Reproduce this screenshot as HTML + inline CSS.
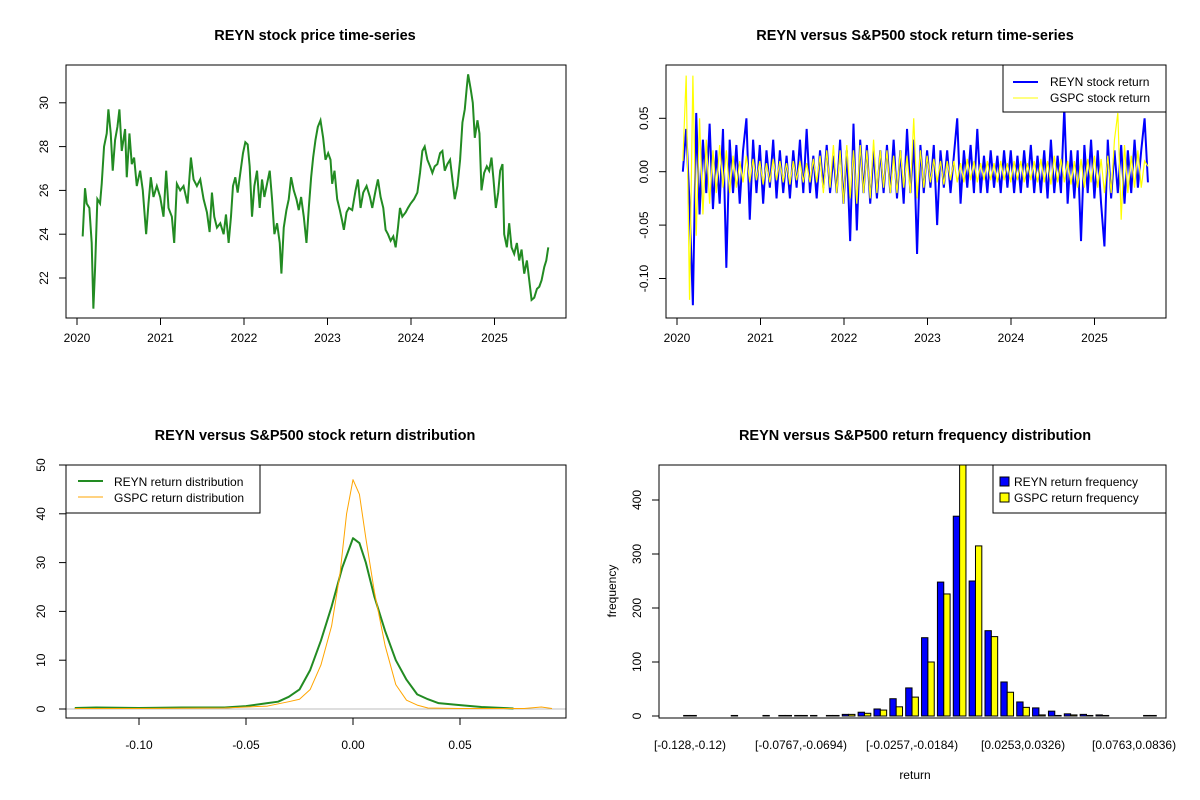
<!DOCTYPE html>
<html><head><meta charset="utf-8"><style>
body{margin:0;background:#fff}
svg{display:block;font-family:"Liberation Sans",Arial,sans-serif}
.t{font-weight:bold;font-size:14.5px;text-anchor:middle}
.k{font-size:12px;fill:#000}
</style></head><body>
<svg id="c" width="1200" height="800" viewBox="0 0 1200 800"></svg>
<script>
// ---------- data ----------
const priceYears=[0.068,0.096,0.116,0.148,0.176,0.196,0.216,0.244,0.276,0.296,0.324,0.356,0.376,0.404,0.428,0.456,0.484,0.508,0.536,0.576,0.596,0.628,0.656,0.684,0.716,0.756,0.788,0.816,0.828,0.856,0.884,0.916,0.956,0.996,1.036,1.068,1.096,1.136,1.164,1.196,1.236,1.276,1.324,1.364,1.396,1.436,1.476,1.516,1.556,1.588,1.616,1.644,1.676,1.716,1.756,1.784,1.816,1.844,1.868,1.896,1.924,1.956,1.988,2.016,2.044,2.068,2.096,2.124,2.156,2.188,2.216,2.244,2.276,2.308,2.336,2.364,2.396,2.428,2.448,2.476,2.508,2.536,2.564,2.596,2.628,2.656,2.684,2.716,2.748,2.776,2.804,2.828,2.856,2.884,2.916,2.948,2.976,3.008,3.036,3.056,3.084,3.116,3.148,3.176,3.196,3.228,3.256,3.296,3.336,3.364,3.396,3.428,3.468,3.508,3.536,3.576,3.604,3.636,3.668,3.696,3.724,3.756,3.788,3.816,3.844,3.868,3.896,3.936,3.964,3.996,4.036,4.076,4.108,4.136,4.164,4.196,4.228,4.256,4.284,4.316,4.348,4.376,4.404,4.436,4.468,4.496,4.524,4.556,4.588,4.616,4.644,4.668,4.684,4.716,4.74,4.764,4.796,4.82,4.844,4.876,4.908,4.936,4.964,4.988,5.016,5.044,5.068,5.096,5.116,5.148,5.176,5.204,5.236,5.268,5.296,5.324,5.356,5.388,5.416,5.444,5.476,5.508,5.536,5.564,5.596,5.62,5.644];
const prices=[23.9,26.1,25.4,25.2,23.6,20.6,22.4,25.6,25.4,26.3,28.0,28.6,29.7,28.6,26.9,28.3,28.9,29.7,27.8,28.8,26.6,28.6,27.2,27.5,26.2,26.9,26.0,24.6,24.0,25.4,26.6,25.7,26.2,25.7,24.8,26.9,25.2,24.8,23.6,26.3,26.0,26.2,25.4,27.5,26.5,26.2,26.5,25.6,25.0,24.1,25.9,24.8,24.3,24.5,24.0,24.9,23.6,24.8,26.2,26.6,25.9,26.8,27.7,28.2,28.1,27.1,24.8,26.2,26.9,25.2,26.5,25.7,26.3,26.9,25.6,24.0,24.5,23.6,22.2,24.3,25.1,25.6,26.6,26.0,25.6,25.1,25.7,24.8,23.6,25.2,26.6,27.5,28.3,28.9,29.2,28.4,27.4,27.7,27.4,26.3,26.9,25.6,25.1,24.6,24.2,25.0,25.2,25.1,26.0,26.5,25.2,25.9,26.2,25.7,25.2,26.0,26.5,25.7,25.2,24.2,24.0,23.7,23.9,23.4,24.3,25.2,24.8,25.0,25.2,25.4,25.6,25.9,26.8,27.8,28.0,27.4,27.1,26.8,27.1,27.2,27.7,27.8,26.9,27.2,27.4,26.5,25.6,26.2,27.4,29.1,29.7,30.7,31.3,30.6,30.0,28.4,29.2,28.6,26.0,26.8,27.1,26.9,27.5,26.5,25.2,25.9,26.9,27.2,24.0,23.4,24.5,23.4,23.1,23.6,22.8,23.3,22.2,22.8,21.9,21.0,21.1,21.5,21.6,21.9,22.5,22.8,23.4];
const returnStartYear=2020.07, returnEndYear=2025.64;
const reynReturns=[0.00,0.04,-0.03,-0.125,0.055,-0.04,0.03,-0.02,0.045,-0.035,0.02,-0.03,0.04,-0.09,0.03,-0.02,0.025,-0.03,0.02,0.05,
-0.045,0.03,-0.02,0.025,-0.03,0.02,-0.015,0.03,-0.025,0.02,-0.02,0.015,-0.025,0.02,-0.015,0.03,-0.02,0.04,-0.02,0.015,
-0.025,0.02,-0.015,0.025,-0.02,0.015,-0.02,0.03,-0.03,0.02,-0.065,0.045,-0.055,0.03,-0.02,0.025,-0.03,0.02,-0.025,0.02,
-0.02,0.025,-0.02,0.03,-0.025,0.02,-0.03,0.04,-0.02,0.03,-0.077,0.025,-0.02,0.02,-0.015,0.025,-0.05,0.02,-0.015,0.02,
-0.02,0.015,0.05,-0.03,0.02,-0.015,0.025,-0.02,0.04,-0.02,0.015,-0.02,0.02,-0.015,0.015,-0.02,0.02,-0.015,0.02,-0.02,
0.015,-0.02,0.02,-0.015,0.025,-0.02,0.015,-0.02,0.02,-0.025,0.03,-0.02,0.015,-0.02,0.06,-0.03,0.02,-0.025,0.02,-0.065,
0.025,-0.02,0.03,-0.025,0.02,-0.03,-0.07,0.03,-0.025,0.02,-0.02,0.025,-0.03,0.02,-0.02,0.03,-0.015,0.02,0.05,-0.01];
const gspcReturns=[0.01,0.09,-0.12,0.09,-0.06,0.05,-0.04,0.03,-0.03,0.02,-0.02,0.025,-0.015,0.02,-0.02,0.015,-0.015,0.01,-0.01,0.015,
-0.01,0.012,-0.008,0.01,-0.012,0.008,-0.01,0.012,-0.008,0.01,-0.01,0.008,-0.012,0.01,-0.008,0.01,-0.01,0.008,-0.01,0.012,
-0.01,0.015,-0.02,0.02,-0.015,0.025,-0.02,0.02,-0.03,0.025,-0.025,0.02,-0.03,0.025,-0.02,0.02,-0.025,0.03,-0.02,0.02,
-0.015,0.02,-0.02,0.015,-0.02,0.02,-0.015,0.015,-0.02,0.05,-0.025,0.02,-0.015,0.015,-0.01,0.012,-0.01,0.01,-0.012,0.01,
-0.008,0.01,-0.01,0.008,-0.01,0.012,-0.008,0.01,-0.01,0.008,-0.008,0.01,-0.008,0.008,-0.01,0.01,-0.008,0.008,-0.01,0.01,
-0.008,0.01,-0.01,0.008,-0.008,0.01,-0.01,0.012,-0.01,0.01,-0.012,0.015,-0.01,0.012,-0.01,0.01,-0.012,0.01,-0.015,0.012,
-0.015,0.012,-0.01,0.015,-0.015,0.012,-0.02,0.015,-0.02,0.03,0.055,-0.045,0.025,-0.02,0.015,-0.015,0.02,-0.015,0.01,0.005];
const reynDensX=[-0.13,-0.12,-0.1,-0.08,-0.06,-0.05,-0.04,-0.035,-0.03,-0.025,-0.02,-0.015,-0.01,-0.005,0,0.003,0.006,0.01,0.015,0.02,0.025,0.03,0.035,0.04,0.05,0.06,0.075];
const reynDensY=[0.2,0.3,0.2,0.3,0.3,0.6,1.2,1.5,2.5,4.0,8,14,21,29,35,34,30,23,16,10,6,3,2,1.2,0.8,0.4,0.1];
const gspcDensX=[-0.13,-0.1,-0.06,-0.04,-0.03,-0.025,-0.02,-0.015,-0.01,-0.006,-0.003,0,0.003,0.006,0.01,0.015,0.02,0.025,0.03,0.035,0.05,0.08,0.088,0.093];
const gspcDensY=[0.1,0.1,0.2,0.6,1.5,2,4,9,17,28,40,47,44,35,24,13,5,1.8,0.8,0.2,0.1,0.1,0.4,0.1];
const binLabels=["[-0.128,-0.12)","[-0.0767,-0.0694)","[-0.0257,-0.0184)","[0.0253,0.0326)","[0.0763,0.0836)"];
const binLabelIdx=[0,7,14,21,28];
const reynFreq=[1,0,0,1,0,1,1,1,1,1,3,7,13,32,52,145,248,370,250,158,63,26,15,9,4,3,2,0,0,1];
const gspcFreq=[1,0,0,0,0,0,1,1,0,1,3,5,11,17,35,100,226,470,315,147,44,16,2,1,2,1,1,0,0,1];
const yearTicks=[2020,2021,2022,2023,2024,2025];
const priceTicks=[22,24,26,28,30];
const retTicks=[-0.10,-0.05,0.00,0.05];
const densXTicks=[-0.10,-0.05,0.00,0.05];
const densYTicks=[0,10,20,30,40,50];
const freqTicks=[0,100,200,300,400];

// ---------- helpers ----------
const svg=document.getElementById('c');
const NS='http://www.w3.org/2000/svg';
function el(tag,at,parent){const e=document.createElementNS(NS,tag);for(const k in at)e.setAttribute(k,at[k]);(parent||svg).appendChild(e);return e;}
function txt(s,x,y,cls,rot,anchor){const e=el('text',{x:x,y:y,class:cls});if(anchor)e.setAttribute('text-anchor',anchor);if(rot)e.setAttribute('transform','rotate(-90 '+x+' '+y+')');e.textContent=s;return e;}
const fmt2=v=>v.toFixed(2);

// ---------- panel 1 ----------
const p1x=y=>77+(y-2020)*83.5, p1y=v=>278-(v-22)*21.9;
let t=txt('REYN stock price time-series',315,40,'t');

let g=el('g',{});
el('polyline',{points:priceYears.map((d,i)=>p1x(2020+d)+','+p1y(prices[i])).join(' '),fill:'none',stroke:'#228b22','stroke-width':2},g);
let b=el('rect',{x:66,y:65,width:500,height:253,fill:'none',stroke:'#000'});

yearTicks.forEach(v=>{el('line',{x1:p1x(v),x2:p1x(v),y1:318,y2:325,stroke:'#000'});let e=txt(String(v),p1x(v),342,'k',0,'middle');});
priceTicks.forEach(v=>{el('line',{x1:59,x2:66,y1:p1y(v),y2:p1y(v),stroke:'#000'});let e=txt(String(v),48,p1y(v),'k',1,'middle');});

// ---------- panel 2 ----------
const p2x=y=>677+(y-2020)*83.5, p2y=v=>171.7-v*1068;
const rdate=(i,n)=>returnStartYear+(returnEndYear-returnStartYear)*i/(n-1);
t=txt('REYN versus S&P500 stock return time-series',915,40,'t');

g=el('g',{});
el('polyline',{points:reynReturns.map((v,i)=>p2x(rdate(i,reynReturns.length))+','+p2y(v)).join(' '),fill:'none',stroke:'#0000ff','stroke-width':2},g);
g=el('g',{});
el('polyline',{points:gspcReturns.map((v,i)=>p2x(rdate(i,gspcReturns.length))+','+p2y(v)).join(' '),fill:'none',stroke:'#ffff00','stroke-width':1.2},g);
b=el('rect',{x:666,y:65,width:500,height:253,fill:'none',stroke:'#000'});

yearTicks.forEach(v=>{el('line',{x1:p2x(v),x2:p2x(v),y1:318,y2:325,stroke:'#000'});let e=txt(String(v),p2x(v),342,'k',0,'middle');});
retTicks.forEach(v=>{el('line',{x1:659,x2:666,y1:p2y(v),y2:p2y(v),stroke:'#000'});let e=txt(fmt2(v),648,p2y(v),'k',1,'middle');});
g=el('g',{});
el('rect',{x:1003,y:65,width:163,height:47,fill:'#fff',stroke:'#000'},g);
el('line',{x1:1013,x2:1038,y1:82,y2:82,stroke:'#0000ff','stroke-width':2},g);
el('line',{x1:1013,x2:1038,y1:98,y2:98,stroke:'#ffff00'},g);
txt('REYN stock return',1050,86,'k',0,'start');txt('GSPC stock return',1050,102,'k',0,'start');

// ---------- panel 3 ----------
const p3x=v=>353+v*2140, p3y=v=>709-v*4.88;
t=txt('REYN versus S&P500 stock return distribution',315,440,'t');

el('line',{x1:66,x2:566,y1:p3y(0),y2:p3y(0),stroke:'#bebebe'});
g=el('g',{});
el('polyline',{points:reynDensX.map((x,i)=>p3x(x)+','+p3y(reynDensY[i])).join(' '),fill:'none',stroke:'#228b22','stroke-width':2,'stroke-linejoin':'round'},g);
g=el('g',{});
el('polyline',{points:gspcDensX.map((x,i)=>p3x(x)+','+p3y(gspcDensY[i])).join(' '),fill:'none',stroke:'#ffa500','stroke-width':1,'stroke-linejoin':'round'},g);
b=el('rect',{x:66,y:465,width:500,height:253,fill:'none',stroke:'#000'});

densXTicks.forEach(v=>{el('line',{x1:p3x(v),x2:p3x(v),y1:718,y2:725,stroke:'#000'});let e=txt(fmt2(v),p3x(v),749,'k',0,'middle');});
densYTicks.forEach(v=>{el('line',{x1:59,x2:66,y1:p3y(v),y2:p3y(v),stroke:'#000'});let e=txt(String(v),45,p3y(v),'k',1,'middle');});
g=el('g',{});
el('rect',{x:66,y:465,width:194,height:48,fill:'#fff',stroke:'#000'},g);
el('line',{x1:78,x2:103,y1:481,y2:481,stroke:'#228b22','stroke-width':2},g);
el('line',{x1:78,x2:103,y1:497,y2:497,stroke:'#ffa500'},g);
txt('REYN return distribution',114,486,'k',0,'start');txt('GSPC return distribution',114,502,'k',0,'start');

// ---------- panel 4 ----------
const pitch=15.86, bw=6.34, g0=690;
const p4y=v=>716-v*0.54;
t=txt('REYN versus S&P500 return frequency distribution',915,440,'t');

el('clipPath',{id:'cp'}).appendChild(Object.assign(document.createElementNS(NS,'rect'),{}));
document.querySelector('#cp rect').setAttribute('x',659);document.querySelector('#cp rect').setAttribute('y',465);
document.querySelector('#cp rect').setAttribute('width',507);document.querySelector('#cp rect').setAttribute('height',253);
g=el('g',{'clip-path':'url(#cp)'});
reynFreq.forEach((v,i)=>{const c=g0+i*pitch;
 const r1=el('rect',{x:c-bw,y:p4y(v),width:bw,height:v*0.54,fill:'#0000ff',stroke:'#000','stroke-width':1},g);
 
 const r2=el('rect',{x:c,y:p4y(gspcFreq[i]),width:bw,height:gspcFreq[i]*0.54,fill:'#ffff00',stroke:'#000','stroke-width':1},g);
 });
b=el('rect',{x:659,y:465,width:507,height:253,fill:'none',stroke:'#000'});

freqTicks.forEach(v=>{el('line',{x1:652,x2:659,y1:p4y(v),y2:p4y(v),stroke:'#000'});let e=txt(String(v),641,p4y(v),'k',1,'middle');});
binLabels.forEach((s,k)=>{let e=txt(s,g0+binLabelIdx[k]*pitch,749,'k',0,'middle');});
t=txt('return',915,779,'k',0,'middle');
t=txt('frequency',616,591,'k',1,'middle');
g=el('g',{});
el('rect',{x:993,y:465,width:173,height:48,fill:'#fff',stroke:'#000'},g);
el('rect',{x:1000,y:477,width:9,height:9,fill:'#0000ff',stroke:'#000'},g);
el('rect',{x:1000,y:493,width:9,height:9,fill:'#ffff00',stroke:'#000'},g);
txt('REYN return frequency',1014,486,'k',0,'start');txt('GSPC return frequency',1014,502,'k',0,'start');
</script>
</body></html>
